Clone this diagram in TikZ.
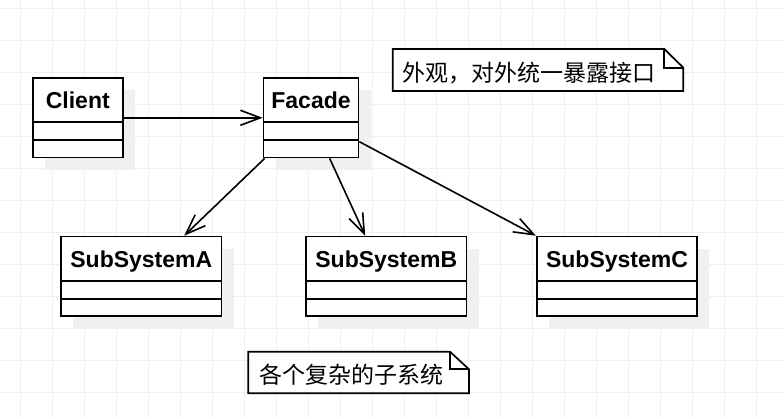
\documentclass[tikz,border=0pt]{standalone}
\usepackage{fontspec}
\setmainfont{Liberation Sans}
\newfontfamily\cjk{Noto Sans CJK SC}
\usetikzlibrary{arrows.meta,shadows}

\begin{document}
\begin{tikzpicture}[x=1pt,y=-1pt,
	gridline/.style={draw=black!6,line width=1pt},
	umlclass/.style={draw,line width=1.7pt,fill=white,inner sep=0pt,
		text height=30.5pt,text depth=49pt,
		font=\fontsize{23pt}{27pt}\selectfont\bfseries,
		drop shadow={shadow xshift=12pt,shadow yshift=-12pt,fill=black!6,opacity=1}},
	notebox/.style={draw,line width=1.7pt,fill=white},
	notefold/.style={draw,line width=1.7pt},
	notetext/.style={anchor=west,inner sep=0pt,font=\fontsize{23pt}{27pt}\cjk},
	dep/.style={line width=1.6pt,-{Straight Barb[length=20pt,width=15pt]}}]
				\useasboundingbox (0,0) rectangle (784,418);
				\fill[white] (0,0) rectangle (784,418);
				
				\foreach \k in {0,...,23}
					\draw[gridline] (20.5+32*\k,0) -- (20.5+32*\k,418);
				\foreach \k in {0,...,12}
					\draw[gridline] (0,8.5+32*\k) -- (784,8.5+32*\k);
				
				\node[umlclass,minimum width=90pt] (client) at (77.8,117.8) {Client};
				\node[umlclass,minimum width=95pt] (facade) at (311,117.8) {Facade};
				\node[umlclass,minimum width=160.5pt] (suba) at (141.3,276.3) {SubSystemA};
				\node[umlclass,minimum width=160.5pt] (subb) at (386.3,276.3) {SubSystemB};
				\node[umlclass,minimum width=160.5pt] (subc) at (617,276.3) {SubSystemC};
				
				\foreach \n in {client,facade,suba,subb,subc}
					\foreach \d in {45,63}
						\draw[line width=1.7pt] ([yshift=-\d pt]\n.north west) -- ([yshift=-\d pt]\n.north east);
				
				\draw[dep] (client) -- (facade);
				\draw[dep] ([xshift=2pt]facade.south west) -- ([xshift=124pt]suba.north west);
				\draw[dep] ([xshift=67pt]facade.south west) -- ([xshift=60pt]subb.north west);
				\draw[dep] ([yshift=-64.5pt]facade.north east) -- (subc.north west);
				
				\coordinate (facadenote) at (392.7,49);
				\draw[notebox] (facadenote) -- ++(271.6,0) -- ++(19,18.7) -- ++(0,23.3) -- ++(-290.6,0) -- cycle;
				\draw[notefold] (facadenote) ++(271.6,0) -- ++(0,18.7) -- ++(19,0);
				\node[notetext] (facadetext) at (402.7,73.3) {外观，对外统一暴露接口};
				
				\coordinate (subnote) at (248.3,351.7);
				\draw[notebox] (subnote) -- ++(201.7,0) -- ++(19,17.6) -- ++(0,24) -- ++(-220.7,0) -- cycle;
				\draw[notefold] (subnote) ++(201.7,0) -- ++(0,17.6) -- ++(19,0);
				\node[notetext] (subtext) at (259.3,375) {各个复杂的子系统};
				\end{tikzpicture}
\end{document}
